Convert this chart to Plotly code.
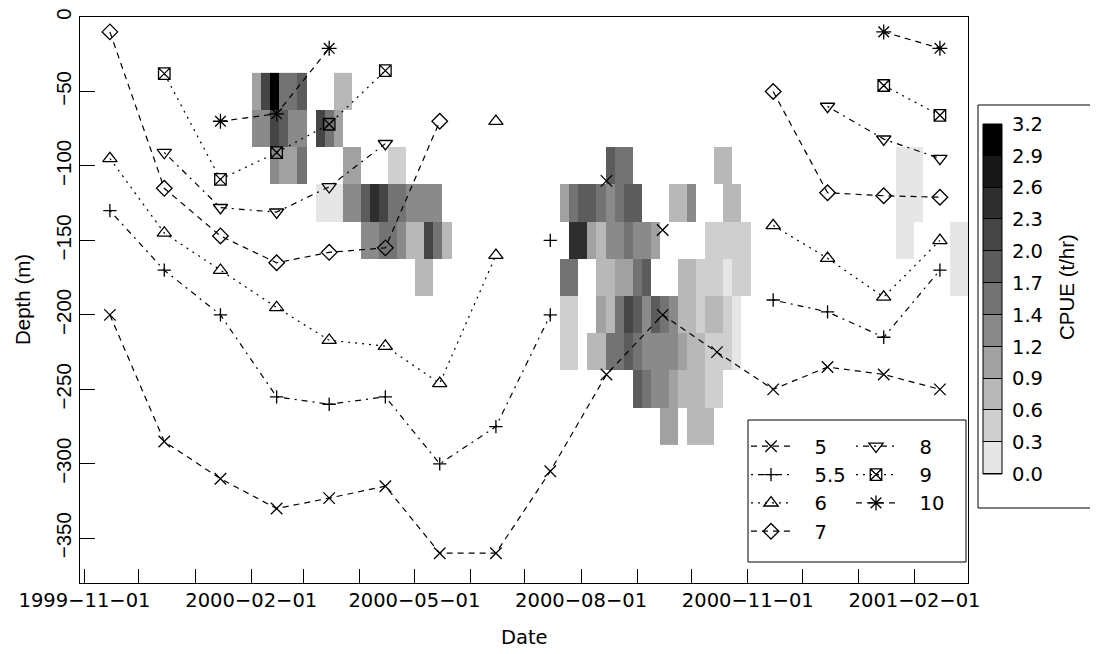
import numpy as np
import pandas as pd
import plotly.graph_objects as go

N = None

# ---------------- isotherm depths (m), one value per month ----------------
months = ["1999-11-15", "1999-12-15", "2000-01-15", "2000-02-15", "2000-03-15", "2000-04-15",
          "2000-05-15", "2000-06-15", "2000-07-15", "2000-08-15", "2000-09-15", "2000-10-15",
          "2000-11-15", "2000-12-15", "2001-01-15", "2001-02-15"]
depth_5 = [-200, -285, -310, -330, -323, -315, -360, -360, -305, -240, -200, -225, -250, -235, -240, -250]
depth_5_5 = [-130, -170, -200, -255, -260, -255, -300, -275, -200, N, N, N, -190, -198, -215, -170]
depth_6 = [-95, -145, -170, -195, -217, -221, -246, -160, N, N, N, N, -140, -162, -188, -150]
depth_7 = [-10, -115, -147, -165, -158, -155, -70, N, N, N, N, N, -50, -118, -120, -121]
depth_8 = [N, -91, -128, -131, -114, -85, N, N, N, N, N, N, N, -60, -82, -95]
depth_9 = [N, -38, -109, -91, -72, -36, N, N, N, N, N, N, N, N, -46, -66]
depth_10 = [N, N, -70, -65, -21, N, N, N, N, N, N, N, N, N, -10, -21]

# second (isolated) crossings of an isotherm within the same month
second_5_dates = ["2000-08-15", "2000-09-15"]
second_5_depths = [-110, -143]
second_5_5_dates = ["2000-07-15"]
second_5_5_depths = [-150]
second_6_dates = ["2000-06-15"]
second_6_depths = [-70]

# ---------------- CPUE cells (t/hr) on a 5-day x 25-m grid ----------------
cell_date = [
    "2000-02-04", "2000-02-04", "2000-02-09", "2000-02-09",
    "2000-02-14", "2000-02-14", "2000-02-14", "2000-02-19", "2000-02-19", "2000-02-19",
    "2000-02-24", "2000-02-24", "2000-02-24", "2000-02-29", "2000-02-29", "2000-02-29",
    "2000-03-10", "2000-03-10", "2000-03-15", "2000-03-15",
    "2000-03-20", "2000-03-20", "2000-03-20", "2000-03-25", "2000-03-25", "2000-03-25",
    "2000-03-30", "2000-03-30", "2000-04-04", "2000-04-04", "2000-04-09", "2000-04-09",
    "2000-04-14", "2000-04-14", "2000-04-19", "2000-04-19", "2000-04-19",
    "2000-04-24", "2000-04-24", "2000-04-24", "2000-04-29", "2000-04-29",
    "2000-05-04", "2000-05-04", "2000-05-04", "2000-05-09", "2000-05-09", "2000-05-09",
    "2000-05-14", "2000-05-14", "2000-05-19",
    "2000-07-23", "2000-07-23", "2000-07-23", "2000-07-23",
    "2000-07-28", "2000-07-28", "2000-07-28", "2000-07-28", "2000-07-28",
    "2000-08-02", "2000-08-02",
    "2000-08-07", "2000-08-07", "2000-08-07",
    "2000-08-12", "2000-08-12", "2000-08-12", "2000-08-12", "2000-08-12",
    "2000-08-17", "2000-08-17", "2000-08-17", "2000-08-17", "2000-08-17", "2000-08-17",
    "2000-08-22", "2000-08-22", "2000-08-22", "2000-08-22", "2000-08-22", "2000-08-22",
    "2000-08-27", "2000-08-27", "2000-08-27", "2000-08-27", "2000-08-27", "2000-08-27",
    "2000-09-01", "2000-09-01", "2000-09-01", "2000-09-01", "2000-09-01", "2000-09-01",
    "2000-09-06", "2000-09-06", "2000-09-06", "2000-09-06", "2000-09-06",
    "2000-09-11", "2000-09-11", "2000-09-11", "2000-09-11",
    "2000-09-16", "2000-09-16", "2000-09-16", "2000-09-16",
    "2000-09-21", "2000-09-21", "2000-09-21", "2000-09-21", "2000-09-21",
    "2000-09-26", "2000-09-26", "2000-09-26", "2000-09-26", "2000-09-26",
    "2000-10-01", "2000-10-01", "2000-10-01", "2000-10-01", "2000-10-01", "2000-10-01",
    "2000-10-06", "2000-10-06", "2000-10-06", "2000-10-06", "2000-10-06",
    "2000-10-11", "2000-10-11", "2000-10-11", "2000-10-11", "2000-10-11", "2000-10-11",
    "2000-10-16", "2000-10-16", "2000-10-16", "2000-10-16", "2000-10-16", "2000-10-16",
    "2000-10-21", "2000-10-21", "2000-10-21", "2000-10-21", "2000-10-21", "2000-10-21",
    "2000-10-26", "2000-10-26", "2000-10-26", "2000-10-26", "2000-10-26",
    "2000-10-31", "2000-10-31",
    "2001-01-24", "2001-01-24", "2001-01-24", "2001-01-29", "2001-01-29", "2001-01-29",
    "2001-02-03", "2001-02-03", "2001-02-23", "2001-02-23", "2001-02-28", "2001-02-28",
]
cell_depth = [
    -50, -75, -50, -75,
    -50, -75, -100, -50, -75, -100,
    -50, -75, -100, -50, -75, -100,
    -75, -125, -75, -125,
    -50, -75, -125, -50, -100, -125,
    -100, -125, -125, -150, -125, -150,
    -125, -150, -100, -125, -150,
    -100, -125, -150, -125, -150,
    -125, -150, -175, -125, -150, -175,
    -125, -150, -150,
    -125, -175, -200, -225,
    -125, -150, -175, -200, -225,
    -125, -150,
    -125, -150, -225,
    -125, -150, -175, -200, -225,
    -100, -125, -150, -175, -200, -225,
    -100, -125, -150, -175, -200, -225,
    -100, -125, -150, -175, -200, -225,
    -125, -150, -175, -200, -225, -250,
    -150, -175, -200, -225, -250,
    -150, -200, -225, -250,
    -200, -225, -250, -275,
    -125, -200, -225, -250, -275,
    -125, -175, -200, -225, -250,
    -125, -175, -200, -225, -250, -275,
    -175, -200, -225, -250, -275,
    -150, -175, -200, -225, -250, -275,
    -100, -150, -175, -200, -225, -250,
    -100, -125, -150, -175, -200, -225,
    -125, -150, -175, -200, -225,
    -150, -175,
    -100, -125, -150, -100, -125, -150,
    -100, -125, -150, -175, -150, -175,
]
cell_cpue = [
    1.01, 1.30, 2.16, 1.30,
    3.17, 2.16, 1.30, 1.59, 1.87, 1.01,
    1.59, 1.30, 1.01, 1.87, 1.30, 1.59,
    2.16, 0.14, 1.59, 0.14,
    0.72, 1.01, 0.14, 0.72, 1.01, 1.30,
    1.01, 1.30, 1.87, 1.30, 2.45, 1.30,
    2.16, 1.59, 0.43, 1.59, 1.59,
    0.43, 1.59, 1.30, 1.30, 0.72,
    1.30, 0.72, 0.72, 1.30, 2.16, 0.72,
    1.30, 1.59, 0.72,
    1.01, 1.59, 0.43, 0.43,
    1.59, 2.45, 1.59, 0.43, 0.43,
    1.87, 2.45,
    1.87, 1.01, 0.72,
    1.59, 0.72, 0.72, 1.01, 0.72,
    1.87, 1.30, 1.30, 0.72, 0.72, 1.59,
    1.59, 1.59, 1.30, 1.01, 1.59, 1.59,
    1.59, 1.87, 1.59, 1.01, 2.16, 1.87,
    1.87, 1.30, 1.59, 1.87, 1.59, 1.87,
    1.30, 1.87, 1.30, 1.30, 1.59,
    1.01, 1.87, 1.30, 1.30,
    1.59, 1.30, 1.30, 1.01,
    0.72, 1.30, 1.30, 1.01, 1.01,
    0.72, 0.72, 0.72, 1.01, 0.72,
    1.30, 0.72, 0.72, 0.72, 0.72, 0.72,
    0.43, 0.43, 0.72, 0.72, 0.72,
    0.43, 0.43, 0.72, 0.43, 0.43, 0.72,
    0.72, 0.43, 0.43, 0.72, 0.43, 0.43,
    0.72, 0.72, 0.43, 0.14, 0.43, 0.43,
    0.72, 0.43, 0.43, 0.14, 0.14,
    0.43, 0.43,
    0.14, 0.14, 0.14, 0.14, 0.14, 0.14,
    0.14, 0.14, 0.14, 0.14, 0.14, 0.14,
]

cpue_max = 3.17
gray_levels = [230, 207, 184, 161, 138, 115, 92, 69, 46, 23, 0]
y_tick_values = [0, -50, -100, -150, -200, -250, -300, -350]

# ---------------- build grid ----------------
grid_dates = pd.date_range("1999-11-01", "2001-02-28", freq="5D")
grid_depths = np.arange(-50, -276, -25)
cells = pd.DataFrame({"date": pd.to_datetime(cell_date), "depth": cell_depth, "cpue": cell_cpue})
zgrid = cells.pivot_table(index="depth", columns="date", values="cpue").reindex(index=grid_depths, columns=grid_dates)
zvals = [[None if np.isnan(v) else float(v) for v in row] for row in zgrid.to_numpy()]

n_lev = len(gray_levels)
colorscale = []
for i, g in enumerate(gray_levels):
    c = f"rgb({g},{g},{g})"
    colorscale.append([i / n_lev, c])
    colorscale.append([(i + 1) / n_lev, c])
breaks = np.linspace(0, cpue_max, n_lev + 1)
mids = (breaks[:-1] + breaks[1:]) / 2

x_ticks = pd.date_range("1999-11-01", "2001-02-01", freq="MS")
x_tick_text = [d.strftime("%Y\u2212%m\u2212%d") if i % 3 == 0 else "" for i, d in enumerate(x_ticks)]
half = pd.Timedelta(days=2.5)
x_range = [(grid_dates[0] - half).strftime("%Y-%m-%d %H:%M"), (grid_dates[-1] + half).strftime("%Y-%m-%d %H:%M")]

# ---------------- geometry helpers (page pixel coords; page has an 8px body margin) ----------------
PAGE_OFF = 8
W, H = 1098 - PAGE_OFF, 654 - PAGE_OFF
PLOT_L, PLOT_R, PLOT_T, PLOT_B = 80, 968, 17, 583      # plot box in page pixels
PAPER_R = 1048
ML = PLOT_L - PAGE_OFF
MT = PLOT_T - PAGE_OFF
MR = (W + PAGE_OFF) - PAPER_R
MB = (H + PAGE_OFF) - PLOT_B
PW = PAPER_R - PLOT_L
PH = PLOT_B - PLOT_T


def px_x(px):
    return (px - PLOT_L) / PW


def px_y(py):
    return (PLOT_B - py) / PH


HF = "DejaVu Sans"
VF = "Liberation Sans"
HS = 19.5
VS = 20.5

DASHED = "6px,5px"
DOTTED = "2px,5px"
DOTDASH = "2px,5px,6px,5px"

fig = go.Figure()
fig.add_trace(go.Heatmap(x=grid_dates, y=grid_depths, z=zvals, colorscale=colorscale,
                         zmin=0, zmax=cpue_max, showscale=False, hoverinfo="skip",
                         xaxis="x", yaxis="y"))

series = [
    ("5", depth_5, "x-thin-open", 11.5, DASHED, "legend"),
    ("5.5", depth_5_5, "cross-thin-open", 9.5, DOTDASH, "legend"),
    ("6", depth_6, "triangle-up-open", 12.5, DOTTED, "legend"),
    ("7", depth_7, "diamond-open", 12, DASHED, "legend"),
    ("8", depth_8, "triangle-down-open", 12.5, DOTDASH, "legend2"),
    ("9", depth_9, "square-x-open", 11.5, DOTTED, "legend2"),
    ("10", depth_10, "asterisk-open", 12.5, DASHED, "legend2"),
]
seconds = {"5": (second_5_dates, second_5_depths),
           "5.5": (second_5_5_dates, second_5_5_depths),
           "6": (second_6_dates, second_6_depths)}
NB = "\u00a0\u00a0\u00a0"
for name, vals, sym, size, dash, leg in series:
    mk = dict(symbol=sym, size=size, color="black", line=dict(color="black", width=1.3))
    fig.add_trace(go.Scatter(x=months, y=vals, name=NB + name, mode="lines+markers",
                             line=dict(color="black", width=1.2, dash=dash), marker=mk,
                             connectgaps=False, legend=leg, legendgroup=name, hoverinfo="skip"))
    if name in seconds:
        d, v = seconds[name]
        fig.add_trace(go.Scatter(x=d, y=v, mode="markers", marker=mk, showlegend=False,
                                 legendgroup=name, hoverinfo="skip"))

# colour key as its own small heatmap
fig.add_trace(go.Heatmap(x=[0.5], y=mids, z=[[m] for m in mids], colorscale=colorscale,
                         zmin=0, zmax=cpue_max, showscale=False, ygap=1, hoverinfo="skip",
                         xaxis="x2", yaxis="y2"))

tick_labels = [f"{b:.1f}" for b in breaks]

fig.update_layout(
    width=W, height=H, margin=dict(l=ML, r=MR, t=MT, b=MB, pad=0, autoexpand=False),
    paper_bgcolor="white", plot_bgcolor="white", hovermode=False,
    font=dict(family=HF, size=HS, color="black"),
    xaxis=dict(type="date", domain=[0, px_x(PLOT_R)], range=x_range, tickvals=x_ticks, ticktext=x_tick_text,
               ticks="inside", ticklen=14, tickwidth=1, tickcolor="black", showline=True,
               linecolor="black", linewidth=1, mirror=True, showgrid=False, zeroline=False,
               automargin=False, tickfont=dict(family=HF, size=HS, color="black"), anchor="y"),
    yaxis=dict(range=[-380, 0], tickvals=y_tick_values, tickangle=-90, ticks="inside", ticklen=15,
               tickwidth=1, tickcolor="black", showline=True, linecolor="black", linewidth=1,
               mirror=True, showgrid=False, zeroline=False, automargin=False,
               tickfont=dict(family=VF, size=VS, color="black"), anchor="x"),
    xaxis2=dict(domain=[px_x(983), px_x(1002)], range=[0, 1], visible=False, anchor="y2", automargin=False),
    yaxis2=dict(domain=[px_y(474), px_y(124)], range=[0, cpue_max], anchor="x2", side="right",
                tickvals=breaks, ticktext=tick_labels, ticks="", showline=False, showgrid=False,
                zeroline=False, automargin=False, ticklabelstandoff=9,
                tickfont=dict(family=HF, size=HS, color="black")),
    legend=dict(x=px_x(746), y=px_y(427), xanchor="left", yanchor="top", bgcolor="rgba(0,0,0,0)",
                borderwidth=0, itemwidth=40, tracegroupgap=0, font=dict(family=HF, size=HS)),
    legend2=dict(x=px_x(851), y=px_y(427), xanchor="left", yanchor="top", bgcolor="rgba(0,0,0,0)",
                 borderwidth=0, itemwidth=40, tracegroupgap=0, font=dict(family=HF, size=HS)),
    shapes=[
        dict(type="rect", xref="x2 domain", yref="y2 domain", x0=0, x1=1, y0=0, y1=1,
             fillcolor="black", line=dict(width=0), layer="below"),
        dict(type="rect", xref="x2 domain", yref="y2 domain", x0=0, x1=1, y0=0, y1=1,
             line=dict(color="black", width=1), layer="above"),
        dict(type="rect", xref="paper", yref="paper", x0=px_x(748), x1=px_x(966),
             y0=px_y(562), y1=px_y(420), fillcolor="white", line=dict(color="black", width=1), layer="above"),
        dict(type="rect", xref="paper", yref="paper", x0=px_x(978), x1=px_x(1110),
             y0=px_y(508), y1=px_y(105), line=dict(color="black", width=1), layer="above"),
    ],
    annotations=[
        dict(text="Date", xref="paper", yref="paper", x=px_x(524), y=px_y(637), showarrow=False,
             xanchor="center", yanchor="middle", font=dict(family=HF, size=HS)),
        dict(text="Depth (m)", xref="paper", yref="paper", x=px_x(22), y=px_y(300), showarrow=False,
             textangle=-90, xanchor="center", yanchor="middle", font=dict(family=VF, size=VS)),
        dict(text="CPUE (t/hr)", xref="paper", yref="paper", x=px_x(1067), y=px_y(287), showarrow=False,
             textangle=-90, xanchor="center", yanchor="middle", font=dict(family=VF, size=VS)),
    ],
)

fig.write_html("out.html")
